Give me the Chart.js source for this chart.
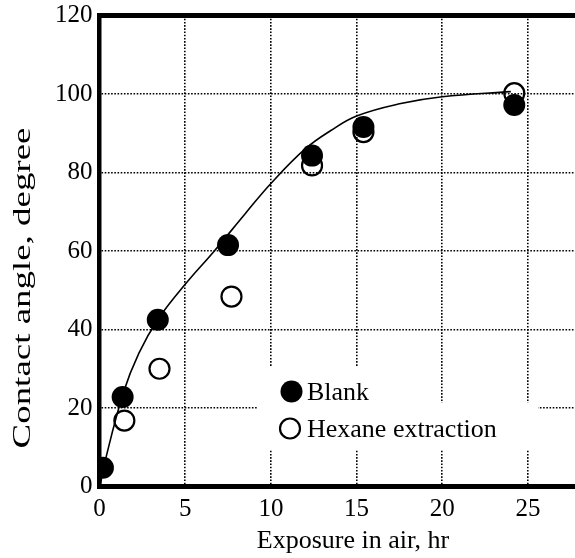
<!DOCTYPE html>
<html>
<head>
<meta charset="utf-8">
<script src="https://cdn.jsdelivr.net/npm/chart.js@4.4.1/dist/chart.umd.min.js"></script>
<style>
  html, body { margin: 0; padding: 0; background: #fff; overflow: hidden; }
  #wrap { width: 600px; height: 558px; }
</style>
</head>
<body>
<div id="wrap"><canvas id="c" width="600" height="558"></canvas></div>
<script>
// Contact angle vs. time of exposure in air
const blankX = [0.2, 1.35, 3.4, 7.5, 12.4, 15.4, 24.2];
const blankY = [4.8, 22.8, 42.5, 61.5, 84.3, 91.6, 97.2];

const hexaneX = [1.45, 3.5, 7.7, 12.4, 15.4, 24.2];
const hexaneY = [16.8, 30, 48.4, 81.8, 90.3, 100.2];

// smooth trend line through the blank samples
const fitX = [0.05, 0.3, 1.4, 2.3, 3.4, 5, 6.7, 8.5, 10, 12, 13.5, 15, 17.5, 20, 24];
const fitY = [0.5, 6, 24, 34, 42.5, 51.5, 60, 69.5, 77.2, 86, 90.7, 94.4, 97.5, 99.3, 100.6];

const xTicks = [0, 5, 10, 15, 20, 25];
const yTicks = [0, 20, 40, 60, 80, 100, 120];
const seriesNames = ['Blank', 'Hexane extraction'];
const xTitle = 'Exposure in air, hr';
const yTitle = 'Contact angle, degree';

const SERIF = "'Liberation Serif', 'Times New Roman', serif";
Chart.defaults.font.family = SERIF;
Chart.defaults.color = '#000';

const toPts = (xs, ys) => xs.map((x, i) => ({ x: x, y: ys[i] }));

// frame top edge, legend and axis titles
const decor = {
  id: 'decor',
  afterDatasetsDraw(chart) {
    const { ctx, chartArea: a } = chart;
    ctx.save();
    // top frame line
    ctx.strokeStyle = '#000';
    ctx.lineWidth = 5;
    ctx.beginPath();
    ctx.moveTo(a.left - 2, a.top);
    ctx.lineTo(a.right + 5, a.top);
    ctx.stroke();

    // legend panel clears the grid behind it
    ctx.fillStyle = '#fff';
    ctx.fillRect(258, 366, 167, 40);
    ctx.fillRect(258, 403, 280, 47);

    ctx.fillStyle = '#000';
    ctx.beginPath();
    ctx.arc(291.5, 391.5, 11, 0, Math.PI * 2);
    ctx.fill();
    ctx.lineWidth = 2.2;
    ctx.beginPath();
    ctx.arc(290, 428.5, 10, 0, Math.PI * 2);
    ctx.stroke();

    ctx.font = '26px ' + SERIF;
    ctx.textAlign = 'left';
    ctx.textBaseline = 'alphabetic';
    ctx.fillText(seriesNames[0], 307, 400);
    ctx.fillText(seriesNames[1], 307, 437);

    // axis titles
    ctx.textAlign = 'center';
    ctx.textBaseline = 'middle';
    ctx.fillText(xTitle, 353, 541);

    ctx.translate(23, 288);
    ctx.rotate(-Math.PI / 2);
    ctx.scale(1.42, 1);
    ctx.font = '26px ' + SERIF;
    ctx.fillText(yTitle, 0, 0);
    ctx.restore();
  }
};

new Chart(document.getElementById('c'), {
  type: 'scatter',
  data: {
    datasets: [
      {
        label: seriesNames[0],
        data: toPts(blankX, blankY),
        pointRadius: 11,
        pointBackgroundColor: '#000',
        pointBorderWidth: 0,
        showLine: false
      },
      {
        label: seriesNames[1],
        data: toPts(hexaneX, hexaneY),
        pointRadius: 10,
        pointBackgroundColor: 'rgba(0,0,0,0)',
        pointBorderColor: '#000',
        pointBorderWidth: 2.2,
        showLine: false
      },
      {
        label: 'fit',
        data: toPts(fitX, fitY),
        showLine: true,
        pointRadius: 0,
        borderColor: '#000',
        borderWidth: 1.6,
        tension: 0.4,
        fill: false
      }
    ]
  },
  options: {
    responsive: false,
    animation: false,
    events: [],
    layout: { padding: { left: 0, top: 15.5, right: 20.6, bottom: 0 } },
    plugins: {
      legend: { display: false },
      tooltip: { enabled: false },
      title: { display: false }
    },
    scales: {
      x: {
        type: 'linear',
        min: 0,
        max: 28,
        afterBuildTicks: s => { s.ticks = xTicks.map(v => ({ value: v })); },
        afterFit: s => { s.height = 71.5; s.paddingLeft = 0; s.paddingRight = 0; },
        ticks: { font: { size: 25 }, padding: 8, color: '#000', maxRotation: 0 },
        grid: {
          drawTicks: false,
          lineWidth: 1.6,
          color: c => (c.tick && c.tick.value > 0) ? '#000' : 'rgba(0,0,0,0)'
        },
        border: { display: true, color: '#000', width: 5, dash: [1.6, 1.6] }
      },
      y: {
        type: 'linear',
        min: 0,
        max: 120,
        afterBuildTicks: s => { s.ticks = yTicks.map(v => ({ value: v })); },
        afterFit: s => { s.width = 99.5; s.paddingTop = 0; s.paddingBottom = 0; },
        ticks: { font: { size: 25 }, padding: 7, color: '#000' },
        grid: {
          drawTicks: false,
          lineWidth: 1.6,
          color: c => (c.tick && c.tick.value > 0 && c.tick.value < 120) ? '#000' : 'rgba(0,0,0,0)'
        },
        border: { display: true, color: '#000', width: 4.5, dash: [1.6, 1.6] }
      }
    }
  },
  plugins: [decor]
});
</script>
</body>
</html>
